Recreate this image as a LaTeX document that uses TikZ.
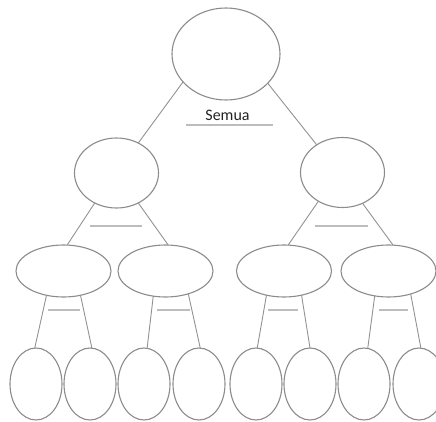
\documentclass[tikz,border=0pt]{standalone}
\usepackage{fontspec}
\setmainfont{Carlito}
\usetikzlibrary{shapes.geometric}
\definecolor{ellgray}{HTML}{8C8C8C}
\definecolor{conngray}{HTML}{929292}
\definecolor{bargray}{HTML}{BDBDBD}
\definecolor{txtgray}{HTML}{222222}
\begin{document}
\begin{tikzpicture}[x=1pt,y=-1pt,
  ell/.style={draw=ellgray, line width=1.1pt, ellipse, inner sep=0pt, outer sep=0pt, fill=white},
  topell/.style={ell, minimum width=108pt, minimum height=92pt},
  midell/.style={ell, minimum width=84pt, minimum height=70pt},
  thirdell/.style={ell, minimum width=95pt, minimum height=52pt},
  leafell/.style={ell, minimum width=52pt, minimum height=72pt},
  conn/.style={draw=conngray, line width=0.9pt},
  bar/.style={draw=bargray, line width=1.4pt},
  lbl/.style={font=\fontsize{16}{18}\selectfont, text=txtgray, inner sep=0pt}
]
\useasboundingbox (0,0) rectangle (436,422);

% nodes
\node[topell] (top) at (226,54) {};
\node[midell] (ml) at (116.5,173) {};
\node[midell] (mr) at (342.5,172.5) {};
\node[thirdell] (la) at (63.5,271) {};
\node[thirdell] (lb) at (165.5,271) {};
\node[thirdell] (lc) at (284,271) {};
\node[thirdell] (ld) at (388.5,271) {};
\node[leafell] (f1) at (36,384) {};
\node[leafell] (f2) at (90,384) {};
\node[leafell] (f3) at (144,384) {};
\node[leafell] (f4) at (199,384) {};
\node[leafell] (f5) at (256,384) {};
\node[leafell] (f6) at (310,384) {};
\node[leafell] (f7) at (364,384) {};
\node[leafell] (f8) at (419,384) {};

% label
\node[lbl] (semua) at (227.5,115.5) {Semua};
\coordinate (u1) at (186,125);
\coordinate (u2) at (273,125);
\draw[bar, line width=2pt] (u1) -- (u2);

% connectors
\draw[conn] (top.213) -- (ml.54);
\draw[conn] (top.325) -- (mr.133);
\draw[conn] (ml.234) -- (la.82);
\draw[conn] (ml.306) -- (lb.84);
\draw[conn] (mr.230) -- (lc.81);
\draw[conn] (mr.303) -- (ld.80);
\draw[conn] (la.235) -- (f1.92);
\draw[conn] (la.305) -- (f2.87);
\draw[conn] (lb.244) -- (f3.85);
\draw[conn] (lb.315) -- (f4.88);
\draw[conn] (lc.234) -- (f5.88);
\draw[conn] (lc.306) -- (f6.90);
\draw[conn] (ld.241) -- (f7.84);
\draw[conn] (ld.314) -- (f8.87);

% short bars
\coordinate (h1a) at (90,226);  \coordinate (h1b) at (142,226);
\coordinate (h2a) at (315,226); \coordinate (h2b) at (368,226);
\coordinate (h3a) at (48,310);  \coordinate (h3b) at (80,310);
\coordinate (h4a) at (157,310); \coordinate (h4b) at (190,310);
\coordinate (h5a) at (268,310); \coordinate (h5b) at (298,310);
\coordinate (h6a) at (379,310); \coordinate (h6b) at (408,310);
\draw[bar] (h1a) -- (h1b);
\draw[bar] (h2a) -- (h2b);
\draw[bar] (h3a) -- (h3b);
\draw[bar] (h4a) -- (h4b);
\draw[bar] (h5a) -- (h5b);
\draw[bar] (h6a) -- (h6b);
\end{tikzpicture}
\end{document}
